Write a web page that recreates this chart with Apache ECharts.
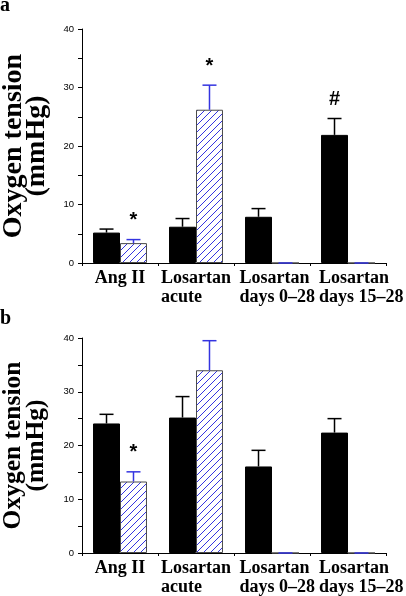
<!DOCTYPE html>
<html><head><meta charset="utf-8">
<script src="https://cdn.jsdelivr.net/npm/echarts@6/dist/echarts.min.js"></script>
<style>html,body{margin:0;padding:0;background:#fff}#c{width:406px;height:596px}</style>
</head><body><div id="c"></div>
<script>
// ---- data ----
const categories = ['Ang II', 'Losartan\nacute', 'Losartan\ndays 0–28', 'Losartan\ndays 15–28'];
const yTicks = [0, 10, 20, 30, 40];
const yTitle = 'Oxygen tension\n(mmHg)';
const panelLabels = ['a', 'b'];

// Panel a (mean, and mean + error)
const aSolid = [5.2, 6.2, 7.9, 21.9];
const aSolidErr = [5.8, 7.6, 9.3, 24.7];
const aHatched = [3.4, 26.2, 0, 0];
const aHatchedErr = [4.0, 30.4, 0, 0];
const aSolidMarks = ['', '', '', '#'];
const aHatchedMarks = ['*', '*', '', ''];

// Panel b
const bSolid = [24.1, 25.2, 16.1, 22.4];
const bSolidErr = [25.8, 29.1, 19.1, 25.0];
const bHatched = [13.3, 34.0, 0, 0];
const bHatchedErr = [15.1, 39.5, 0, 0];
const bSolidMarks = ['', '', '', ''];
const bHatchedMarks = ['*', '', '', ''];

// ---- styles ----
const BLUE = '#3434e0';
const GAP = 0.29;
const serif = 'Liberation Serif';
const sans = 'Liberation Sans';

function hatchPattern() {
  const s = 7;
  const cv = document.createElement('canvas');
  cv.width = s; cv.height = s;
  const ctx = cv.getContext('2d');
  ctx.fillStyle = '#fff'; ctx.fillRect(0, 0, s, s);
  ctx.strokeStyle = BLUE; ctx.lineWidth = 1;
  ctx.beginPath();
  ctx.moveTo(-1, s + 1); ctx.lineTo(s + 1, -1);
  ctx.moveTo(-1, 1); ctx.lineTo(1, -1);
  ctx.moveTo(s - 1, s + 1); ctx.lineTo(s + 1, s - 1);
  ctx.stroke();
  return { image: cv, repeat: 'repeat' };
}
const hatch = hatchPattern();

// label layout: left-aligned text blocks per category
const labelW = [0, 70, 65, 58];
const rich = {};
labelW.forEach((w, i) => { if (w) rich['s' + i] = { width: w, align: 'left', fontFamily: serif, fontWeight: 'bold', fontSize: 18, lineHeight: 19, color: '#000' }; });
function labelFmt(v, i) {
  if (!labelW[i]) return v;
  return v.split('\n').map(t => '{s' + i + '|' + t + '}').join('\n');
}

function errRender(side, color, marks) {
  return function (params, api) {
    const ci = api.value(0);
    const top = api.coord([ci, api.value(1)]);
    const base = api.coord([ci, api.value(2)]);
    const band = api.size([1, 0])[0];
    const barW = band * (1 - GAP) / 2;
    const x = top[0] + side * barW / 2;
    const cap = 7;
    const st = { stroke: color, lineWidth: 1.5 };
    const children = [
      { type: 'line', shape: { x1: x, y1: base[1], x2: x, y2: top[1] }, style: st },
      { type: 'line', shape: { x1: x - cap, y1: top[1], x2: x + cap, y2: top[1] }, style: st }
    ];
    const m = marks[params.dataIndex];
    if (m) children.push({ type: 'text', x: x, y: top[1] - 19,
      style: { text: m, fontSize: 20, fontWeight: 'bold', fontFamily: sans, fill: '#000', align: 'center', verticalAlign: 'middle' } });
    return { type: 'group', children };
  };
}

function panelSeries(gi, solid, solidErr, hatched, hatchedErr, sMarks, hMarks) {
  return [
    { type: 'bar', xAxisIndex: gi, yAxisIndex: gi, data: solid, barGap: '0%', barCategoryGap: (GAP * 100) + '%',
      itemStyle: { color: '#000', borderColor: '#000', borderWidth: 1 }, silent: true },
    { type: 'bar', xAxisIndex: gi, yAxisIndex: gi, data: hatched, barGap: '0%', barCategoryGap: (GAP * 100) + '%',
      itemStyle: { color: hatch, borderColor: '#4a4a4a', borderWidth: 1 }, silent: true },
    { type: 'custom', xAxisIndex: gi, yAxisIndex: gi, renderItem: errRender(-1, '#000', sMarks),
      data: solidErr.map((e, i) => [i, e, solid[i]]), encode: { x: 0, y: [1, 2] }, z: 5, silent: true },
    { type: 'custom', xAxisIndex: gi, yAxisIndex: gi, renderItem: errRender(1, BLUE, hMarks),
      data: hatchedErr.map((e, i) => [i, e, hatched[i]]), encode: { x: 0, y: [1, 2] }, z: 5, silent: true }
  ];
}

function xAxis(gi) {
  return { type: 'category', gridIndex: gi, data: categories,
    axisLine: { lineStyle: { color: '#000', width: 1 } },
    axisTick: { show: true, length: 3, lineStyle: { color: '#000' } },
    axisLabel: { interval: 0, margin: 6, formatter: labelFmt, rich: rich,
      fontFamily: serif, fontWeight: 'bold', fontSize: 18, lineHeight: 19, color: '#000' } };
}
function yAxis(gi, fs) {
  return { type: 'value', gridIndex: gi, min: yTicks[0], max: yTicks[yTicks.length - 1], interval: 10,
    name: yTitle, nameLocation: 'middle', nameRotate: 90, nameGap: 34,
    nameTextStyle: { fontFamily: serif, fontWeight: 'bold', fontSize: fs, lineHeight: 23, color: '#000' },
    axisLine: { show: true, lineStyle: { color: '#000', width: 1 } },
    axisTick: { show: true, length: 4, lineStyle: { color: '#000' } },
    minorTick: { show: true, splitNumber: 2, length: 4, lineStyle: { color: '#000' } },
    splitLine: { show: false },
    axisLabel: { margin: 8, fontFamily: sans, fontSize: 9.5, color: '#000',
      formatter: v => yTicks.indexOf(v) >= 0 ? String(v) : '' } };
}

const chart = echarts.init(document.getElementById('c'), null, { renderer: 'canvas' });
chart.setOption({
  animation: false,
  backgroundColor: '#fff',
  grid: [
    { left: 82, right: 20, top: 29, bottom: 333, containLabel: false, outerBoundsMode: 'none' },
    { left: 82, right: 20, top: 338, bottom: 43, containLabel: false, outerBoundsMode: 'none' }
  ],
  xAxis: [xAxis(0), xAxis(1)],
  yAxis: [yAxis(0, 28), yAxis(1, 25.5)],
  graphic: [
    { type: 'text', x: 0, y: 16, style: { text: panelLabels[0], fontFamily: serif, fontWeight: 'bold', fontSize: 20, fill: '#000', verticalAlign: 'bottom' } },
    { type: 'text', x: 0, y: 329, style: { text: panelLabels[1], fontFamily: serif, fontWeight: 'bold', fontSize: 20, fill: '#000', verticalAlign: 'bottom' } }
  ],
  series: [].concat(
    panelSeries(0, aSolid, aSolidErr, aHatched, aHatchedErr, aSolidMarks, aHatchedMarks),
    panelSeries(1, bSolid, bSolidErr, bHatched, bHatchedErr, bSolidMarks, bHatchedMarks)
  )
});
</script></body></html>
